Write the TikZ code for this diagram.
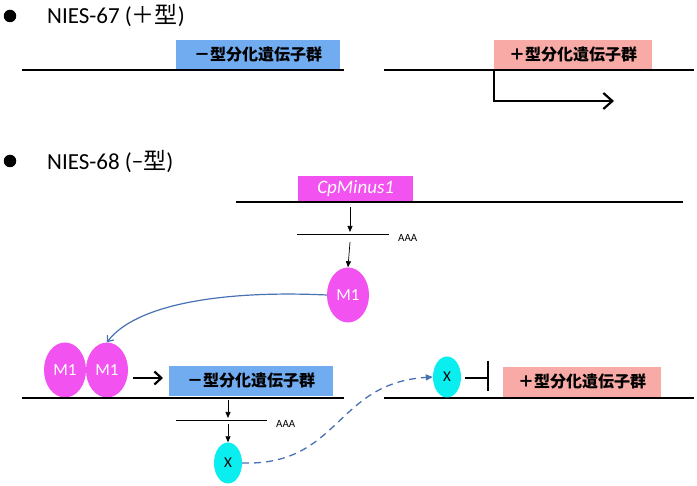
\documentclass[tikz,border=0pt]{standalone}
\usepackage{fontspec}
\setmainfont{Carlito}
\newfontfamily\jp{Noto Sans CJK JP}
\usetikzlibrary{arrows.meta,shapes.geometric}
\definecolor{geneblue}{RGB}{114,172,240}
\definecolor{genepink}{RGB}{247,170,166}
\definecolor{mag}{RGB}{242,82,240}
\definecolor{cyn}{RGB}{10,238,240}
\definecolor{arrblue}{RGB}{70,114,180}
\tikzset{
  dna/.style={line width=2.6pt},
  genebox/.style={inner sep=0pt, minimum height=30pt, font=\jp\bfseries\fontsize{16}{16}\selectfont},
  bluebox/.style={genebox, fill=geneblue, minimum width=164pt},
  pinkbox/.style={genebox, fill=genepink, minimum width=158pt},
  mone/.style={ellipse, fill=mag, inner sep=0pt, minimum width=42pt, minimum height=55pt, text=white, font=\fontsize{17}{17}\selectfont},
  xprot/.style={ellipse, fill=cyn, inner sep=0pt, minimum width=28pt, minimum height=41pt, font=\fontsize{15}{15}\selectfont},
  thinarr/.style={line width=0.7pt, -{Triangle[length=6pt,width=5pt]}},
  mrna/.style={line width=0.7pt},
  aaa/.style={font=\fontsize{11}{11}\selectfont, anchor=west, inner sep=0pt},
  title/.style={anchor=base west, inner sep=0pt, font=\fontsize{23}{23}\selectfont},
  bulletdot/.style={circle, fill=black, inner sep=0pt, minimum size=12.5pt}
}
\begin{document}
\begin{tikzpicture}[x=1pt,y=-1pt]
\useasboundingbox (0,0) rectangle (697,486);
% ---- NIES-67 ----
\node[bulletdot] (b1) at (10,16) {};
\node[title] (t1) at (47,24) {NIES-67 ({\jp ＋型})};
\coordinate (l1a) at (22,70); \coordinate (l1b) at (344,70);
\coordinate (r1a) at (384,70); \coordinate (r1b) at (694,70);
\node[bluebox, anchor=south west] (g1) at (176,70) {－型分化遺伝子群};
\node[pinkbox, anchor=south west] (p1) at (494,70) {＋型分化遺伝子群};
\draw[dna] (l1a) -- (l1b);
\draw[dna] (r1a) -- (r1b);
\coordinate (prom) at (494,70); \coordinate (promend) at (614,101);
\draw[line width=2.2pt, -{Straight Barb[length=9pt,width=16pt]}] (prom) |- (promend);
% ---- NIES-68 ----
\node[bulletdot] (b2) at (10,161) {};
\node[title] (t2) at (47,170) {NIES-68 (−{\jp 型})};
\coordinate (l2a) at (236,202); \coordinate (l2b) at (683,202);
\node[fill=mag, inner sep=0pt, minimum width=115pt, minimum height=26pt, anchor=south west, text=white, font=\itshape\fontsize{19}{19}\selectfont] (cp) at (298,202) {CpMinus1};
\draw[dna] (l2a) -- (l2b);
\coordinate (a1s) at (350,207); \coordinate (a1e) at (350,232);
\draw[thinarr] (a1s) -- (a1e);
\coordinate (m1a) at (297,234); \coordinate (m1b) at (389,234);
\draw[mrna] (m1a) -- (m1b);
\node[aaa] (aaa1) at (398,238) {AAA};
\node[mone] (m1) at (348,295) {M1};
\coordinate (a2s) at (350,242);
\draw[thinarr] (a2s) -- (m1.north);
% bottom
\coordinate (l3a) at (22,398); \coordinate (l3b) at (344,398);
\coordinate (r3a) at (384,398); \coordinate (r3b) at (694,398);
\node[mone] (mA) at (65,370) {M1};
\node[mone] (mB) at (107,370) {M1};
\node[bluebox, anchor=south west] (g2) at (169,396) {－型分化遺伝子群};
\node[pinkbox, anchor=south west] (p2) at (503,397) {＋型分化遺伝子群};
\draw[dna] (l3a) -- (l3b);
\draw[dna] (r3a) -- (r3b);
\draw[arrblue, line width=1.2pt, -{Straight Barb[length=5pt,width=8pt]}] (m1.west) .. controls (220,290) and (135,305) .. (mB.north);
\coordinate (bas) at (133,378); \coordinate (bae) at (163,378);
\draw[line width=2.2pt, -{Straight Barb[length=7pt,width=13pt]}] (bas) -- (bae);
\coordinate (a3s) at (228,400); \coordinate (a3e) at (228,418);
\draw[thinarr] (a3s) -- (a3e);
\coordinate (m2a) at (176,420); \coordinate (m2b) at (267,420);
\draw[mrna] (m2a) -- (m2b);
\node[aaa] (aaa2) at (276,424) {AAA};
\node[xprot] (x1) at (228,463) {X};
\coordinate (a4s) at (228,424);
\draw[thinarr] (a4s) -- (x1.north);
\node[xprot] (x2) at (447,377) {X};
\draw[arrblue, line width=1.3pt, dash pattern=on 7pt off 5pt, -{Triangle[length=7pt,width=6pt]}] (x1.east) .. controls (340,466) and (335,383) .. (x2.west);
\coordinate (inhs) at (465,378); \coordinate (inhe) at (488,378);
\coordinate (bart) at (488,361); \coordinate (barb) at (488,391);
\draw[line width=2.2pt] (inhs) -- (inhe);
\draw[line width=2.2pt] (bart) -- (barb);
\end{tikzpicture}
\end{document}
